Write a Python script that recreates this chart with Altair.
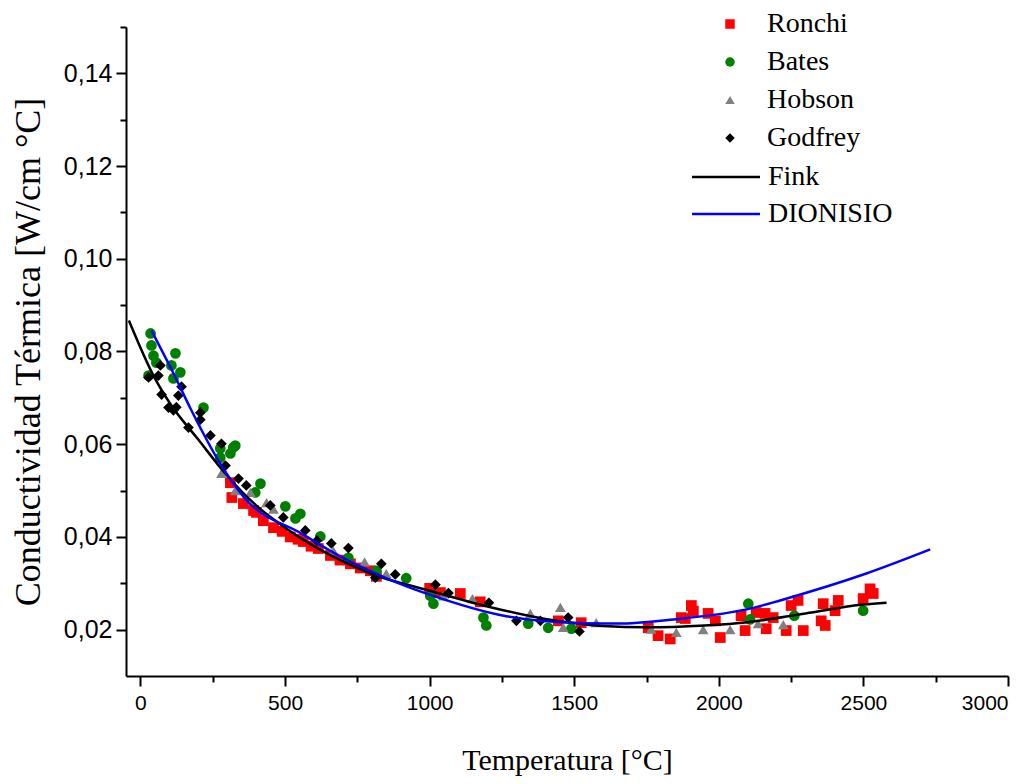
import altair as alt
import pandas as pd

# ---------------- data ----------------
ronchi_T = [311, 316, 356, 391, 401, 425, 460, 490, 518, 545, 563, 590, 615, 657, 690, 726, 760, 795, 816,
            1000, 1037, 1106, 1175, 1445, 1524, 1756, 1790, 1832, 1870, 1884, 1905, 1912, 1963, 1988, 2005,
            2077, 2091, 2129, 2160, 2164, 2188, 2233, 2250, 2274, 2292, 2354, 2361, 2368, 2402, 2413, 2499,
            2523, 2534]
ronchi_k = [0.0517, 0.0485, 0.0472, 0.0457, 0.0453, 0.0435, 0.0420, 0.0412, 0.0400, 0.0395, 0.0390, 0.0380,
            0.0375, 0.0360, 0.0350, 0.0342, 0.0333, 0.0327, 0.0315,
            0.0289, 0.0280, 0.0278, 0.0260, 0.0219, 0.0215, 0.0204, 0.0187, 0.0180, 0.0226, 0.0224, 0.0252,
            0.0240, 0.0235, 0.0219, 0.0183, 0.0230, 0.0198, 0.0237, 0.0235, 0.0202, 0.0226, 0.0198, 0.0252,
            0.0263, 0.0198, 0.0219, 0.0256, 0.0209, 0.0241, 0.0263, 0.0267, 0.0288, 0.0278]

bates_T = [28, 35, 38, 45, 55, 107, 114, 121, 138, 218, 276, 276, 311, 321, 328, 397, 415, 501, 536, 553,
           622, 719, 816, 919, 1002, 1013, 1186, 1196, 1341, 1410, 1490, 2102, 2108, 2261, 2499]
bates_k = [0.0748, 0.0839, 0.0813, 0.0791, 0.0776, 0.0770, 0.0742, 0.0796, 0.0755, 0.0679, 0.0571, 0.0591,
           0.0580, 0.0593, 0.0597, 0.0496, 0.0515, 0.0466, 0.0440, 0.0450, 0.0401, 0.0355, 0.0327, 0.0311,
           0.0273, 0.0256, 0.0226, 0.0209, 0.0213, 0.0204, 0.0202, 0.0256, 0.0222, 0.0230, 0.0241]

hobson_T = [280, 328, 380, 436, 460, 667, 775, 850, 1047, 1148, 1348, 1452, 1462, 1576, 1766, 1853, 1946,
            2039, 2136, 2223]
hobson_k = [0.0537, 0.0500, 0.0496, 0.0474, 0.0460, 0.0370, 0.0346, 0.0321, 0.0273, 0.0267, 0.0235, 0.0248,
            0.0205, 0.0215, 0.0201, 0.0194, 0.0200, 0.0200, 0.0213, 0.0211]

godfrey_T = [28, 62, 69, 73, 97, 114, 124, 131, 142, 166, 207, 207, 242, 280, 294, 339, 366, 449, 494, 570,
             610, 660, 719, 812, 833, 881, 1020, 1065, 1205, 1300, 1383, 1479, 1518]
godfrey_k = [0.0744, 0.0748, 0.0770, 0.0707, 0.0679, 0.0673, 0.0680, 0.0705, 0.0724, 0.0636, 0.0668, 0.0653,
             0.0619, 0.0601, 0.0554, 0.0526, 0.0511, 0.0468, 0.0442, 0.0414, 0.0392, 0.0386, 0.0376, 0.0312,
             0.0342, 0.0319, 0.0297, 0.0279, 0.0258, 0.0219, 0.0219, 0.0226, 0.0196]

fink_T = [-40, 50, 100, 200, 300, 400, 500, 600, 700, 800, 1000, 1200, 1400, 1600, 1750, 1950, 2100, 2300,
          2500, 2580]
fink_k = [0.0867, 0.0742, 0.0690, 0.0610, 0.0532, 0.0468, 0.0420, 0.0380, 0.0347, 0.0320, 0.0284, 0.0250,
          0.0223, 0.0208, 0.0205, 0.0209, 0.0216, 0.0235, 0.0254, 0.0258]

dion_T = [38, 114, 173, 276, 356, 563, 700, 840, 909, 1002, 1265, 1531, 1650, 1842, 2119, 2212, 2510, 2731]
dion_k = [0.0845, 0.0753, 0.0677, 0.0558, 0.0487, 0.0405, 0.0355, 0.0314, 0.0296, 0.0275, 0.0229, 0.0214,
          0.0213, 0.0222, 0.0247, 0.0263, 0.0321, 0.0373]

series_names = ["Ronchi", "Bates", "Hobson", "Godfrey"]
series_colors = ["#ff0000", "#008000", "#808080", "#000000"]
series_shapes = ["square", "circle", "triangle-up", "diamond"]
curve_names = ["Fink", "DIONISIO"]
curve_colors = ["#000000", "#0000ff"]

x_ticks = [0, 250, 500, 750, 1000, 1250, 1500, 1750, 2000, 2250, 2500, 2750, 3000]
y_ticks = [0.02, 0.03, 0.04, 0.05, 0.06, 0.07, 0.08, 0.09, 0.10, 0.11, 0.12, 0.13, 0.14, 0.15]

# ---------------- tables ----------------
rows = []
for name, Ts, ks in zip(series_names, [ronchi_T, bates_T, hobson_T, godfrey_T],
                        [ronchi_k, bates_k, hobson_k, godfrey_k]):
    for t, k in zip(Ts, ks):
        rows.append({"T": t, "k": k, "series": name})
pts = pd.DataFrame(rows)

lrows = []
for name, Ts, ks in zip(curve_names, [fink_T, dion_T], [fink_k, dion_k]):
    for t, k in zip(Ts, ks):
        lrows.append({"T": t, "k": k, "curve": name})
lines = pd.DataFrame(lrows)

SANS = "Liberation Sans"
SERIF = "Liberation Serif"

x_enc = alt.X("T:Q", scale=alt.Scale(domain=[-50, 3000], nice=False, zero=False),
              axis=alt.Axis(values=x_ticks, title="Temperatura [°C]",
                            labelExpr="datum.value % 500 === 0 ? format(datum.value, 'd') : ''",
                            tickSize={"condition": {"test": "datum.value % 500 === 0", "value": 10}, "value": 6},
                            labelFontSize=21, labelPadding=6, titlePadding=32,
                            titleFontSize=30))
y_enc = alt.Y("k:Q", scale=alt.Scale(domain=[0.01, 0.15], nice=False, zero=False),
              axis=alt.Axis(values=y_ticks, title="Conductividad Térmica [W/cm °C]",
                            labelExpr="round(datum.value*100) % 2 === 0 ? replace(format(datum.value, '.2f'), '.', ',') : ''",
                            tickSize={"condition": {"test": "round(datum.value*100) % 2 === 0", "value": 10}, "value": 6},
                            labelFontSize=25, labelPadding=4, titlePadding=16,
                            titleFontSize=36))

leg_pts = alt.Legend(orient="none", legendX=590, legendY=-17, title=None,
                     labelFont=SERIF, labelFontSize=28, labelColor="black",
                     symbolSize=90, rowPadding=10, labelOffset=23)
leg_lines = alt.Legend(orient="none", legendX=586, legendY=136, title=None,
                       labelFont=SERIF, labelFontSize=28, labelColor="black",
                       symbolType="M-3,0H3", symbolSize=514, symbolStrokeWidth=2.5,
                       rowPadding=9, labelOffset=28)

points = alt.Chart(pts).mark_point(filled=True, opacity=1, size=115).encode(
    x=x_enc, y=y_enc,
    color=alt.Color("series:N", scale=alt.Scale(domain=series_names, range=series_colors), legend=leg_pts),
    shape=alt.Shape("series:N", scale=alt.Scale(domain=series_names, range=series_shapes), legend=leg_pts),
)

curves = alt.Chart(lines).mark_line(interpolate="monotone", strokeWidth=2.5).encode(
    x=x_enc, y=y_enc,
    color=alt.Color("curve:N", scale=alt.Scale(domain=curve_names, range=curve_colors), legend=leg_lines),
)

chart = alt.layer(points, curves).resolve_scale(color="independent", shape="independent").properties(
    width=882, height=649,
    padding={"left": 126, "top": 27, "right": 28, "bottom": 108},
    autosize=alt.AutoSizeParams(type="none"),
    background="white",
).configure_view(stroke="transparent").configure_axis(
    grid=False, domainColor="black", domainWidth=2, tickColor="black", tickWidth=2,
    labelFont=SANS, labelColor="black", titleFont=SERIF, titleColor="black", titleFontWeight="normal",
)

chart.save("out.html", embed_options={"renderer": "svg", "actions": False})
